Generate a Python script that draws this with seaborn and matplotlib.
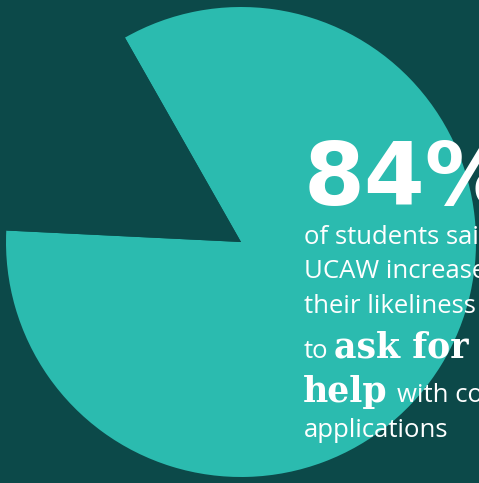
import seaborn as sns
import matplotlib.pyplot as plt

# datos del gráfico
etiquetas = ['Más probable', 'Resto']
valores = [84, 16]
colores = ['#2bbbaf', '#0c4949']

fondo = '#0c4949'
blanco = '#ffffff'

sns.set_theme(style='white', rc={'figure.facecolor': fondo, 'axes.facecolor': fondo})

fig = plt.figure(figsize=(4.79, 4.83), dpi=100)
ax = fig.add_axes([0, 0, 1, 1])
ax.set_facecolor(fondo)

# pastel grande, sale del marco por la derecha y abajo
ax.pie(valores, colors=colores, startangle=177.2, counterclock=True,
       center=(241, 241), radius=235, wedgeprops={'linewidth': 0})

ax.set_xlim(0, 479)
ax.set_ylim(0, 483)
ax.set_aspect('equal')
ax.axis('off')

H = 483
cuerpo = dict(color=blanco, fontsize=18.5, family='Open Sans', fontweight='normal', va='baseline')
slab = dict(color=blanco, fontsize=25, family='DejaVu Serif', fontweight='bold', va='baseline')

ax.text(304, H - 205, '84%', color=blanco, fontsize=63, family='DejaVu Sans',
        fontweight='bold', va='baseline')
ax.text(304, H - 244, 'of students said', **cuerpo)
ax.text(304, H - 278, 'UCAW increased', **cuerpo)
ax.text(304, H - 313, 'their likeliness', **cuerpo)
ax.text(304, H - 358, 'to', **cuerpo)
ax.text(334, H - 358, 'ask for', **slab)
ax.text(303, H - 402, 'help', **slab)
ax.text(397, H - 402, 'with college', **cuerpo)
ax.text(304, H - 437, 'applications', **cuerpo)

plt.savefig('out.png', dpi=100, facecolor=fondo)
